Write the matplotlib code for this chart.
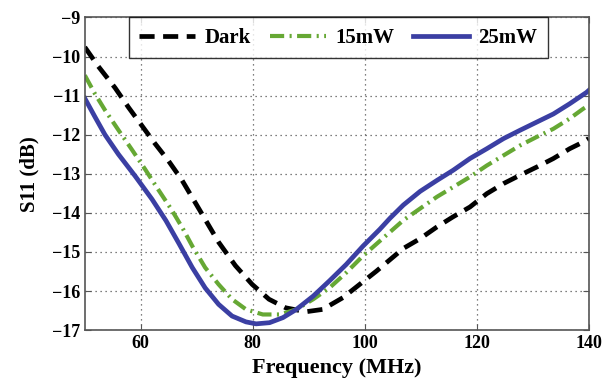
import numpy as np
import matplotlib
matplotlib.use("Agg")
import matplotlib.pyplot as plt

plt.rcParams.update({
    "font.family": ["Liberation Serif", "DejaVu Serif"],
    "font.weight": "bold",
})

# S11 curves (frequency in MHz, S11 in dB)
freq_dark = [50, 52.4, 55.4, 57.8, 60.2, 62.5, 64.9, 67.3, 70.4, 73.9, 76.9,
             79.9, 82.9, 85.9, 89.5, 92.5, 96.1, 99.1, 102.1, 104.5, 106.9, 109.9,
             112.9, 115.8, 118.8, 121.8, 124.8, 127.7, 130.7, 133.7, 136.6, 139, 140]
s11_dark = [-9.76, -10.25, -10.8, -11.3, -11.77, -12.22, -12.66, -13.15, -13.9,
            -14.75, -15.35, -15.83, -16.21, -16.43, -16.53, -16.47, -16.17, -15.83,
            -15.49, -15.2, -14.91, -14.66, -14.36, -14.1, -13.85, -13.51, -13.25,
            -13.04, -12.83, -12.61, -12.36, -12.19, -12.1]

freq_15 = [50, 51.8, 53.6, 56, 58.4, 60.8, 63.1, 65.5, 67.5, 69.2, 71.5, 73.9,
           76.3, 78.8, 81.8, 84.8, 87.8, 90.8, 93.7, 96.7, 99.7, 102.7, 106.9,
           109.9, 112.9, 115.8, 118.8, 121.8, 124.8, 127.7, 130.7, 133.7, 136.6,
           139, 140]
s11_15 = [-10.48, -10.95, -11.37, -11.88, -12.38, -12.89, -13.4, -13.92, -14.4,
          -14.85, -15.4, -15.83, -16.21, -16.47, -16.6, -16.6, -16.47, -16.21,
          -15.92, -15.53, -15.1, -14.72, -14.19, -13.89, -13.59, -13.34, -13.08,
          -12.79, -12.53, -12.28, -12.06, -11.85, -11.59, -11.34, -11.25]

freq_25 = [50, 51.8, 53.6, 56, 59, 62, 64.5, 66.8, 69.2, 71.5, 73.9, 76.3, 78.8,
           80.6, 83, 85.4, 87.8, 90.8, 93.7, 96.7, 99.7, 102.7, 104.5, 106.9,
           109.9, 112.9, 115.8, 118.8, 121.8, 124.8, 127.7, 130.7, 133.7, 136.6,
           139.6, 140]
s11_25 = [-11.07, -11.54, -12.0, -12.5, -13.06, -13.65, -14.2, -14.78, -15.4,
          -15.92, -16.34, -16.64, -16.79, -16.84, -16.81, -16.68, -16.47, -16.13,
          -15.74, -15.32, -14.85, -14.42, -14.14, -13.8, -13.45, -13.17, -12.91,
          -12.61, -12.36, -12.1, -11.89, -11.68, -11.47, -11.21, -10.92, -10.87]

x_ticks = [60, 80, 100, 120, 140]
y_ticks = [-17, -16, -15, -14, -13, -12, -11, -10, -9]

fig = plt.figure(figsize=(6.1, 3.87), dpi=100)
ax = fig.add_axes([0.139, 0.147, 0.826, 0.808])

ax.plot(freq_dark, s11_dark, color="black", lw=3.4, ls=(0, (3.2, 1.8)), label="Dark")
ax.plot(freq_15, s11_15, color="#66a834", lw=3.0, ls=(0, (3.4, 1.3, 0.5, 1.3)), label="15mW")
ax.plot(freq_25, s11_25, color="#3b3fa3", lw=3.4, label="25mW")

ax.set_xlim(50, 140)
ax.set_ylim(-17, -9)
ax.set_xticks(x_ticks)
ax.set_yticks(y_ticks)
ax.set_yticklabels([f"\u2212{abs(v)}" for v in y_ticks])
ax.tick_params(direction="in", top=True, right=True, labelsize=13, length=4,
               color="#555555")
for lbl in ax.get_xticklabels() + ax.get_yticklabels():
    lbl.set_fontweight("bold")
ax.grid(True, ls=(0, (1, 3)), color="#555555", lw=0.9)
for sp in ax.spines.values():
    sp.set_color("#555555")
    sp.set_linewidth(1.2)

ax.set_xlabel("Frequency (MHz)", fontsize=16, fontweight="bold", labelpad=4)
ax.set_ylabel("S11 (dB)", fontsize=15, fontweight="bold", labelpad=9)

leg = ax.legend(loc="upper center", bbox_to_anchor=(0.503, 1.0), ncol=3,
                frameon=True, fancybox=False, borderaxespad=0,
                prop={"size": 15, "weight": "bold"}, handlelength=2.7,
                columnspacing=0.9, handletextpad=0.45, borderpad=0.5)
leg.get_frame().set_edgecolor("black")
leg.get_frame().set_linewidth(1.0)

fig.savefig("out.png", dpi=100)
